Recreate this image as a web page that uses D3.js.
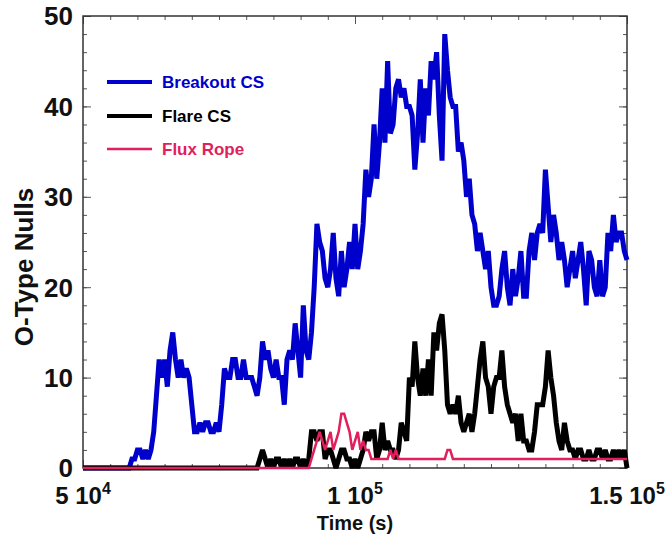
<!DOCTYPE html>
<html><head><meta charset="utf-8">
<script src="https://cdn.jsdelivr.net/npm/d3@7"></script>
<style>body{margin:0;background:#fff}</style>
</head><body><svg id="c" width="667" height="537"></svg>
<script>
const tStart = 50000, tStep = 500;
const breakout = [
0,0,0,0,0,0,0,0,0,0,0,0,0,0,0,0,0,0,
1,1,2,2,1,2,1,2,
4,8,12,10,12,9,
13,15,12,10,12,10,11,10,7,4,
4,5,4,5,5,4,4,5,4,
7,11,10,10,12,12,10,10,12,10,10,10,9,8,10,
14,12,13,11,10,12,10,10,7,12,13,12,16,13,10,18,13,12,15,20,27,
25,24,21,20,22,26,21,19,24,20,22,25,22,27,22,
24,27,33,30,32,38,32,36,42,36,45,37,38,42,43,41,42,40,40,39,33,37,43,36,42,39,45,43,46,39,34,48,44,41,40,40,35,36,34,30,32,28,27,24,26,24,22,
24,20,18,18,19,22,24,20,18,22,19,21,24,19,19,24,26,23,26,27,26,33,29,25,28,26,23,25,23,20,22,24,21,23,25,22,18,24,23,20,19,23,19,20,26,24,28,25,26,26,24,23
];
const flare = [
0,0,0,0,0,0,0,0,0,0,0,0,0,0,0,0,0,0,0,0,0,0,0,0,0,0,0,0,0,0,0,0,0,0,0,0,0,0,0,0,0,0,0,0,0,0,0,0,0,0,0,0,0,0,0,0,0,0,0,0,0,0,0,0,0,
1,2,1,0,1,0,1,1,0,1,0,1,0,1,1,0,1,0,1,
4,4,3,4,4,1,2,2,1,0,1,2,2,1,1,0,1,0,1,2,4,3,4,4,1,2,5,2,3,2,2,1,2,5,4,3,
10,9,14,10,8,11,8,12,8,15,13,16,17,13,7,6,7,6,8,5,4,5,6,4,6,9,12,14,10,9,6,9,10,10,13,9,7,6,5,6,3,6,3,3,2,2,4,7,7,7,9,13,10,8,5,3,2,5,3,2,2,
1,2,2,1,1,2,1,1,2,2,1,2,1,1,2,1,2,1,2,0
];
const fluxRope = [
0,0,0,0,0,0,0,0,0,0,0,0,0,0,0,0,0,0,0,0,0,0,0,0,0,0,0,0,0,0,0,0,0,0,0,0,0,0,0,0,0,0,0,0,0,0,0,0,0,0,0,0,0,0,0,0,0,0,0,0,0,0,0,0,0,0,0,0,0,0,0,0,0,0,0,0,0,0,0,0,0,0,0,0,
1,2,3,4,3,2,3,4,2,3,4,6,6,5,4,2,3,4,2,3,2,2,1,
1,1,1,1,1,1,
2,1,2,1,
1,1,1,1,1,1,1,1,1,1,1,1,1,1,1,1,1,
2,2,
1,1,1,1,1,1,1,1,1,1,1,1,1,1,1,1,1,1,1,1,1,1,1,1,1,1,1,1,1,1,1,1,1,1,1,1,1,1,1,1,1,1,1,1,1,1,1,1,1,1,1,1,1,1,1,1,1,1,1,1,1,1,1,1,1
];
const seriesNames = ["Breakout CS", "Flare CS", "Flux Rope"];
const seriesColors = ["#0000cc", "#000000", "#e01f5c"];
const xTickValues = [50000, 100000, 150000];
const xTickMantissa = ["5", "1", "1.5"];
const xTickExponent = ["4", "5", "5"];
const yTickValues = [0, 10, 20, 30, 40, 50];

const W = 667, H = 537;
const m = {left: 83, right: 40, top: 16, bottom: 69};
const svg = d3.select("#c");
const x = d3.scaleLinear().domain([50000, 150000]).range([m.left, W - m.right]);
const y = d3.scaleLinear().domain([0, 50]).range([H - m.bottom, m.top]);
const FONT = "'Liberation Sans', Arial, Helvetica, sans-serif";

const xMinor = d3.range(50000, 150001, 5000);
const yMinor = d3.range(0, 51, 2);

function styleAxis(g) {
  g.select(".domain").remove();
  g.selectAll("line").attr("stroke", "#555").attr("stroke-width", 1);
  g.selectAll("text").remove();
}
svg.append("g").attr("transform", `translate(0,${y(0)})`).call(d3.axisBottom(x).tickValues(xMinor).tickSize(-4)).call(styleAxis);
svg.append("g").attr("transform", `translate(0,${y(50)})`).call(d3.axisTop(x).tickValues(xMinor).tickSize(-4)).call(styleAxis);
svg.append("g").attr("transform", `translate(${x(50000)},0)`).call(d3.axisLeft(y).tickValues(yMinor).tickSize(-4)).call(styleAxis);
svg.append("g").attr("transform", `translate(${x(150000)},0)`).call(d3.axisRight(y).tickValues(yMinor).tickSize(-4)).call(styleAxis);
svg.append("g").attr("transform", `translate(0,${y(0)})`).call(d3.axisBottom(x).tickValues(xTickValues).tickSize(-8)).call(styleAxis);
svg.append("g").attr("transform", `translate(0,${y(50)})`).call(d3.axisTop(x).tickValues(xTickValues).tickSize(-8)).call(styleAxis);
svg.append("g").attr("transform", `translate(${x(50000)},0)`).call(d3.axisLeft(y).tickValues(yTickValues).tickSize(-8)).call(styleAxis);
svg.append("g").attr("transform", `translate(${x(150000)},0)`).call(d3.axisRight(y).tickValues(yTickValues).tickSize(-8)).call(styleAxis);

svg.append("rect").attr("x", x(50000)).attr("y", y(50)).attr("width", x(150000) - x(50000)).attr("height", y(0) - y(50))
  .attr("fill", "none").attr("stroke", "#333").attr("stroke-width", 1.5);

const line = d3.line().x((d, i) => x(tStart + i * tStep)).y(d => y(d));
const data = [breakout, flare, fluxRope];
const widths = [5, 5, 2.5];
data.forEach((s, i) => {
  svg.append("path").datum(s).attr("d", line).attr("fill", "none")
    .attr("stroke", seriesColors[i]).attr("stroke-width", widths[i]).attr("stroke-linejoin", "miter").attr("stroke-miterlimit", 2);
});

svg.append("g").selectAll("text").data(yTickValues).join("text")
  .attr("x", x(50000) - 10).attr("y", d => y(d)).attr("dy", "0.36em")
  .attr("text-anchor", "end").attr("font-family", FONT).attr("font-weight", "bold").attr("font-size", 26)
  .attr("fill", "#111").text(d => d);

const xl = svg.append("g").selectAll("text").data(xTickValues).join("text")
  .attr("x", d => x(d)).attr("y", 504).attr("text-anchor", "middle")
  .attr("font-family", FONT).attr("font-weight", "bold").attr("font-size", 24).attr("fill", "#111");
xl.append("tspan").text((d, i) => xTickMantissa[i] + " 10");
xl.append("tspan").attr("dy", -10).attr("font-size", 16).text((d, i) => xTickExponent[i]);

svg.append("text").attr("x", (x(50000) + x(150000)) / 2).attr("y", 530).attr("text-anchor", "middle")
  .attr("font-family", FONT).attr("font-weight", "bold").attr("font-size", 20).attr("fill", "#111").text("Time (s)");
svg.append("text").attr("transform", `translate(33,${(y(0) + y(50)) / 2 + 25}) rotate(-90)`).attr("text-anchor", "middle")
  .attr("font-family", FONT).attr("font-weight", "bold").attr("font-size", 26).attr("fill", "#111").text("O-Type Nulls");

const legY = [82, 116, 149];
const legW = [4, 4, 2.5];
seriesNames.forEach((n, i) => {
  svg.append("line").attr("x1", 107).attr("x2", 152).attr("y1", legY[i]).attr("y2", legY[i])
    .attr("stroke", seriesColors[i]).attr("stroke-width", legW[i]);
  svg.append("text").attr("x", 162).attr("y", legY[i]).attr("dy", "0.36em")
    .attr("font-family", FONT).attr("font-weight", "bold").attr("font-size", 17)
    .attr("fill", seriesColors[i]).text(n);
});
</script></body></html>
